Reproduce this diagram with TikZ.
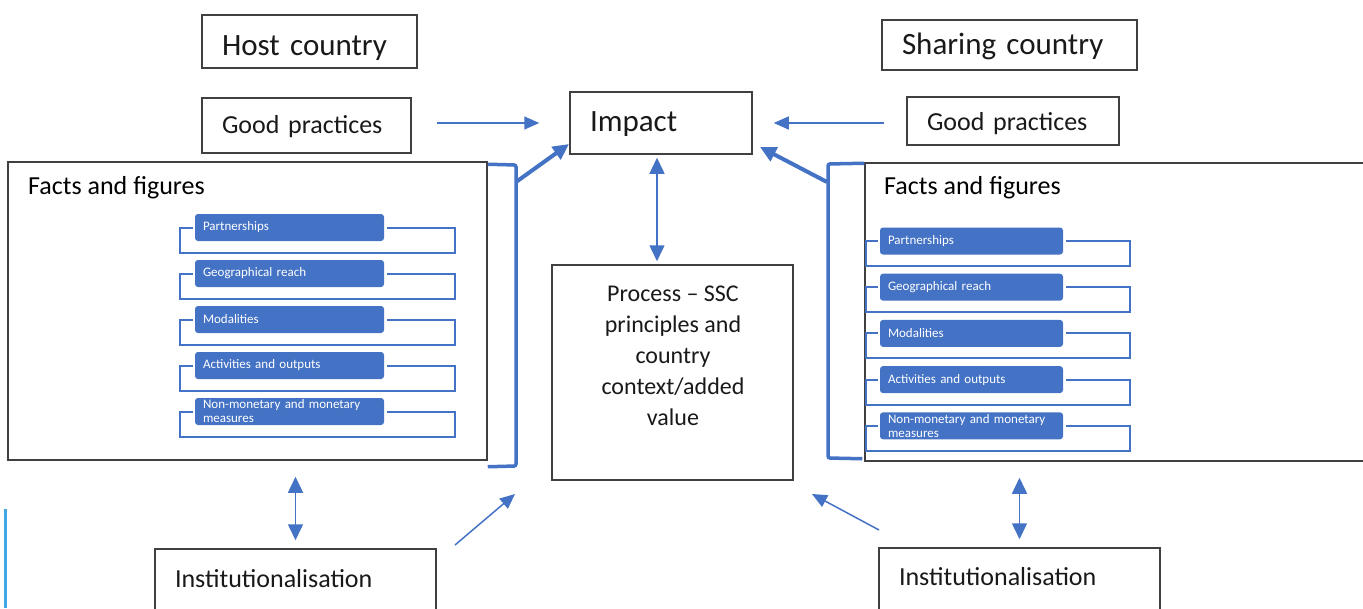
\documentclass[tikz,border=0pt]{standalone}
\usepackage{fontspec}
\setmainfont{Carlito}
\usepackage{tikz}
\usetikzlibrary{arrows.meta,positioning,calc}

\definecolor{officeblue}{HTML}{4472C4}
\definecolor{boxgrey}{HTML}{404040}
\definecolor{edgecyan}{HTML}{41A8E8}

\newcommand{\fsTitle}{\fontsize{31}{37}\selectfont}
\newcommand{\fsLabel}{\fontsize{26}{31}\selectfont}
\newcommand{\fsProc}{\fontsize{24}{31}\selectfont}
\newcommand{\fsItem}{\fontsize{13}{14}\selectfont}

\tikzset{
  cbox/.style={draw=boxgrey, line width=1.5pt, align=left, inner xsep=20pt, inner ysep=0pt, text=black!90},
  lift/.style={text height=#1, text depth=0pt},
  itembox/.style={fill=officeblue, rounded corners=3pt, text=white, align=left, inner xsep=8pt, inner ysep=0pt, minimum height=27pt, font=\fsItem},
  thinarrow/.style={draw=officeblue, line width=1.5pt, -{Triangle[length=15pt,width=13pt]}},
  thickarrow/.style={draw=officeblue, line width=4pt, -{Triangle[length=16pt,width=15pt]}},
  dblarrow/.style={draw=officeblue, line width=1.5pt, {Triangle[length=16pt,width=15pt]}-{Triangle[length=16pt,width=15pt]}},
  bigbracket/.style={draw=officeblue, line width=3.5pt, rounded corners=2pt},
  subbracket/.style={draw=officeblue, line width=2pt},
}

\begin{document}
\begin{tikzpicture}[x=1pt, y=-1pt]
  \useasboundingbox (0,0) rectangle (1363,608);
  \clip (0,0) rectangle (1363,608);

  % Top boxes
  \node[cbox, lift=27pt, text width=175pt, minimum height=53pt, font=\fsTitle] (host) at (309.5,41.5) {Host country};
  \node[cbox, lift=19pt, text width=215pt, minimum height=50pt, font=\fsTitle] (sharing) at (1009.5,45) {Sharing country};
  \node[cbox, lift=16pt, text width=169pt, minimum height=55pt, font=\fsLabel] (goodL) at (306.5,125.5) {Good practices};
  \node[cbox, lift=18pt, text width=172pt, minimum height=48pt, font=\fsLabel] (goodR) at (1013,121) {Good practices};
  \node[cbox, lift=17pt, text width=142pt, minimum height=62pt, font=\fsTitle] (impact) at (661,123) {Impact};

  % Facts and figures
  \node[cbox, minimum width=479pt, minimum height=298pt] (factsL) at (247.5,311) {};
  \node[cbox, minimum width=504pt, minimum height=298pt] (factsR) at (1117,312) {};
  \node[anchor=west, inner sep=0pt, font=\fsLabel] (factsLlbl) at (28,188) {Facts and figures};
  \node[anchor=west, inner sep=0pt, font=\fsLabel] (factsRlbl) at (884,188) {Facts and figures};

  \foreach \name/\txt/\yy in {part/Partnerships/0, geo/Geographical reach/1, mod/Modalities/2,
      act/Activities and outputs/3, money/{Non-monetary and monetary\\measures}/4} {
    \node[itembox, text width=173pt] (itemL\name) at (289.5,227.5+46*\yy) {\txt};
    \draw[subbracket] ([xshift=-2pt]itemL\name.west) -- ++(-13,0) -- ++(0,25.5) -- ++(275,0) -- ++(0,-25.5) -- ++(-68,0);
    \node[itembox, text width=167pt] (itemR\name) at (971.5,241+46.2*\yy) {\txt};
    \draw[subbracket] ([xshift=-2pt]itemR\name.west) -- ++(-12,0) -- ++(0,25) -- ++(264,0) -- ++(0,-25) -- ++(-64,0);
  }

  % Brackets
  \draw[bigbracket] ($(factsL.north east)+(0,3)$) -- (516,165) -- (516,466) -- ($(factsL.south east)+(0,6)$);
  \draw[bigbracket] ($(factsR.north west)+(0,1)$) -- (828,164) -- (828,458) -- ($(factsR.south west)+(-2,-3)$);

  % Process and institutionalisation
  \node[cbox, minimum width=241pt, minimum height=215pt] (process) at (672.5,372.5) {};
  \node[align=center, font=\fsProc, text=black!90] (proctext) at (673,356) {Process – SSC\\principles and\\country\\context/added\\value};
  \node[cbox, lift=12pt, text width=241pt, minimum height=64pt, font=\fsLabel] (instL) at (295.5,581) {Institutionalisation};
  \node[cbox, lift=10pt, text width=241pt, minimum height=64pt, font=\fsLabel] (instR) at (1019.5,580) {Institutionalisation};

  % Arrows
  \coordinate (brLjoin) at (516,182);
  \coordinate (impLtip) at (569,144);
  \coordinate (brRjoin) at (827,182);
  \coordinate (impRtip) at (760,147);
  \coordinate (instLtail) at (455,545);
  \coordinate (procLtip) at (515,494);
  \coordinate (instRtail) at (879,530);
  \coordinate (procRtip) at (812,494);

  \draw[thinarrow, shorten <=25pt, shorten >=30pt] (goodL.east |- impact.west) -- (impact.west);
  \draw[thinarrow, shorten <=22pt, shorten >=21pt] (goodR.west |- impact.east) -- (impact.east);
  \draw[thickarrow] (brLjoin) -- (impLtip);
  \draw[thickarrow] (brRjoin) -- (impRtip);
  \draw[dblarrow, shorten <=3pt, shorten >=3pt] ([xshift=-4pt]impact.south) -- ([xshift=-4pt]impact.south |- process.north);
  \draw[dblarrow, shorten <=16pt, shorten >=8pt] (instL.north |- factsL.south) -- (instL.north);
  \draw[dblarrow, shorten <=16pt, shorten >=8pt] (instR.north |- factsR.south) -- (instR.north);
  \draw[thinarrow] (instLtail) -- (procLtip);
  \draw[thinarrow] (instRtail) -- (procRtip);

  % Edge line
  \draw[edgecyan, line width=3pt] (5,509) -- (5,608);

\end{tikzpicture}
\end{document}
